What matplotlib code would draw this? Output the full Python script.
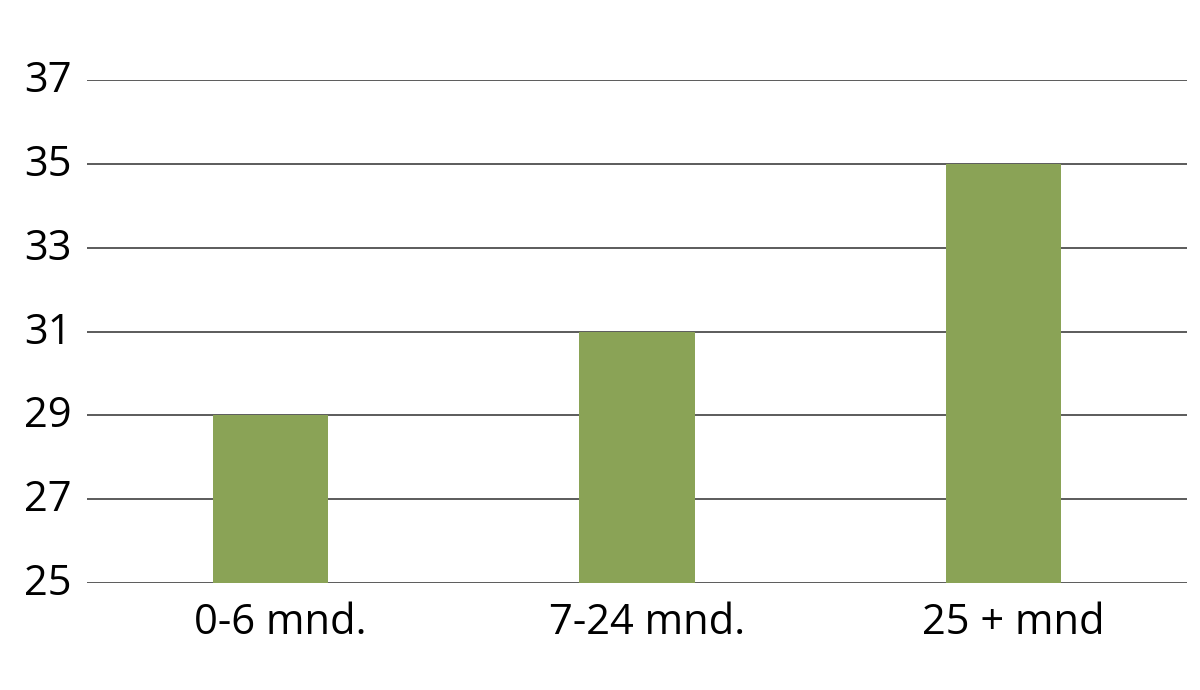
import matplotlib
matplotlib.use("Agg")
import matplotlib.pyplot as plt
from matplotlib.transforms import ScaledTranslation

categories = ["0-6 mnd.", "7-24 mnd.", "25 + mnd"]
values = [29, 31, 35]
yticks = [25, 27, 29, 31, 33, 35, 37]

plt.rcParams['font.family'] = ['Open Sans', 'DejaVu Sans']

fig = plt.figure(figsize=(12, 6.9), dpi=100)
ax = fig.add_axes([87/1200, 1 - 583/690, 1100/1200, 503/690])

x = list(range(len(categories)))
ax.bar(x, [v - 25 for v in values], bottom=25, width=0.314, color="#8aa356", zorder=2)

ax.set_xlim(-0.5, 2.5)
ax.set_ylim(25, 37)
ax.set_yticks(yticks)
ax.set_yticklabels([str(t) for t in yticks])
ax.set_xticks(x)
ax.set_xticklabels(categories)
ax.tick_params(axis='both', length=0, labelsize=30, colors='#000000')
ax.tick_params(axis='y', pad=11)
ax.tick_params(axis='x', pad=14)
ax.grid(axis='y', color='#404040', linewidth=1.2, zorder=1)
for s in ['top', 'right', 'left', 'bottom']:
    ax.spines[s].set_visible(False)

shift_up = ScaledTranslation(0, 4/100, fig.dpi_scale_trans)
for lbl in ax.get_yticklabels():
    lbl.set_transform(lbl.get_transform() + shift_up)
shift_right = ScaledTranslation(10/100, 0, fig.dpi_scale_trans)
for lbl in ax.get_xticklabels():
    lbl.set_transform(lbl.get_transform() + shift_right)

fig.savefig("out.png", dpi=100)
